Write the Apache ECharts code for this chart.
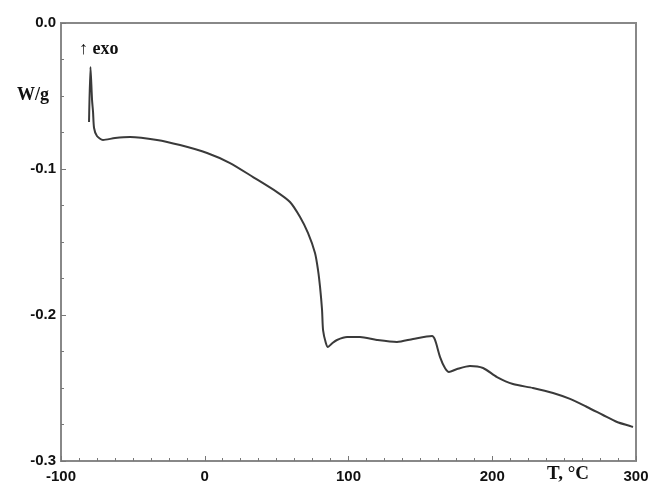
<!DOCTYPE html>
<html>
<head>
<meta charset="utf-8">
<script src="https://cdn.jsdelivr.net/npm/echarts@6/dist/echarts.min.js"></script>
<style>html,body{margin:0;padding:0;background:#fff;}#c{width:655px;height:492px;}</style>
</head>
<body>
<div id="c"></div>
<script>
// Temperature (°C)
var temps = [-80.5,-79.5,-78.4,-77.7,-77.0,-75.0,-70.8,-62.4,-52.0,-33.2,-17.2,1.6,17.6,33.6,50.3,59.3,66.3,71.8,76.7,78.8,80.2,81.6,82.3,84.2,85.7,88.5,92.0,99.0,108.0,119.8,133.7,144.9,158.1,160.2,163.7,167.1,169.9,175.5,184.5,193.6,203.3,214.4,228.3,242.3,254.1,265.9,277.0,286.8,295.8,297.9];
// Heat flow (W/g)
var heatFlow = [-0.0678,-0.0301,-0.0527,-0.0610,-0.0719,-0.0774,-0.0801,-0.0788,-0.0781,-0.0801,-0.0836,-0.0890,-0.0959,-0.1055,-0.1158,-0.1226,-0.1329,-0.1438,-0.1575,-0.1692,-0.1808,-0.1966,-0.2103,-0.2190,-0.2219,-0.2195,-0.2171,-0.2151,-0.2151,-0.2171,-0.2185,-0.2164,-0.2144,-0.2171,-0.2288,-0.2363,-0.2390,-0.2370,-0.2349,-0.2363,-0.2425,-0.2473,-0.2500,-0.2534,-0.2575,-0.2630,-0.2685,-0.2733,-0.2760,-0.2767];
var xTicks = [-100, 0, 100, 200, 300];
var yTicks = ['0.0', '-0.1', '-0.2', '-0.3'];

var chart = echarts.init(document.getElementById('c'));
var pts = temps.map(function (t, i) { return [t, heatFlow[i]]; });
var labelFont = {color: '#111', fontFamily: 'Liberation Sans, Arial, sans-serif', fontSize: 15, fontWeight: 'bold'};
chart.setOption({
  animation: false,
  backgroundColor: '#fff',
  grid: {left: 61, right: 19, top: 23, bottom: 31, show: true, borderColor: '#888', borderWidth: 2},
  xAxis: {
    type: 'value', min: xTicks[0], max: xTicks[xTicks.length - 1], interval: 100,
    axisLine: {show: true, onZero: false, lineStyle: {color: '#888', width: 2}},
    axisTick: {show: true, inside: true, length: 5, lineStyle: {color: '#777'}},
    minorTick: {show: true, splitNumber: 8, length: 3, lineStyle: {color: '#777'}},
    splitLine: {show: false},
    axisLabel: Object.assign({margin: 8, formatter: function (v) { return String(v); }}, labelFont)
  },
  yAxis: {
    type: 'value', min: -0.3, max: 0, interval: 0.1,
    axisLine: {show: true, onZero: false, lineStyle: {color: '#888', width: 2}},
    axisTick: {show: true, inside: true, length: 5, lineStyle: {color: '#777'}},
    minorTick: {show: true, splitNumber: 4, length: 3, lineStyle: {color: '#777'}},
    splitLine: {show: false},
    axisLabel: Object.assign({margin: 5, formatter: function (v) {
      var idx = Math.round(-v * 10);
      return yTicks[idx];
    }}, labelFont)
  },
  series: [{
    type: 'line', data: pts, showSymbol: false, smooth: 0.25,
    lineStyle: {color: '#3a3a3a', width: 2}
  }],
  graphic: [
    {type: 'text', left: 17, top: 86, style: {text: 'W/g', font: 'bold 18px "Liberation Serif", "Times New Roman", serif', fill: '#111'}},
    {type: 'text', left: 79, top: 40, style: {text: '\u2191 exo', font: 'bold 18px "Liberation Serif", "Times New Roman", serif', fill: '#111'}},
    {type: 'text', left: 547, top: 465, style: {text: 'T, \u00B0C', font: 'bold 19px "Liberation Serif", "Times New Roman", serif', fill: '#111'}}
  ]
});
</script>
</body>
</html>
